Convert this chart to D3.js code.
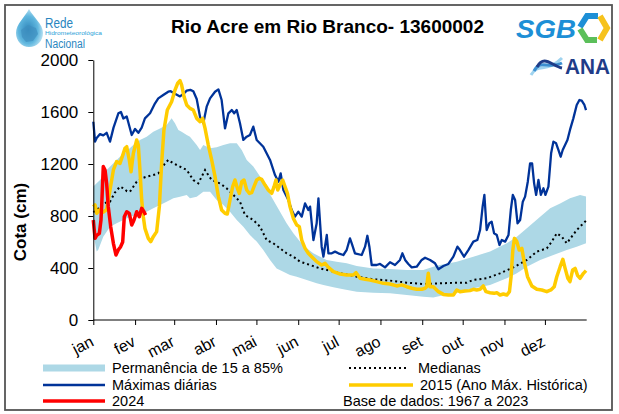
<!DOCTYPE html>
<html>
<head>
<meta charset="utf-8">
<script src="https://cdn.jsdelivr.net/npm/d3@7"></script>
<style>
body { margin: 0; background: #fff; }
svg { display: block; font-family: "Liberation Sans", Arial, sans-serif; }
</style>
</head>
<body>
<div id="chart"></div>
<script>
// meses e eixos
const months = ["jan", "fev", "mar", "abr", "mai", "jun", "jul", "ago", "set", "out", "nov", "dez"];
const monthStart = [0, 31, 60, 91, 121, 152, 182, 213, 244, 274, 305, 335];
const yTicks = [0, 400, 800, 1200, 1600, 2000];

// [dia do ano, cota cm]
const bandHigh = [[0,1026],[5,1077],[9.9,1154],[14.9,1205],[19.8,1256],[24.8,1300],[29.7,1346],[34.6,1385],
  [39.6,1410],[44.5,1449],[49.5,1474],[54.4,1500],[58.1,1551],[60.6,1513],[63.1,1462],[65.5,1449],[69.3,1423],
  [71.7,1410],[76.7,1346],[79.2,1308],[81.6,1346],[86.6,1321],[91.5,1328],[96.5,1346],[101.4,1359],[106.4,1359],
  [110.1,1308],[113.8,1231],[118.7,1180],[123.7,1103],[128.6,1013],[133.5,923],[138.5,833],[143.4,744],
  [148.4,667],[153.3,603],[158.3,551],[163.2,513],[168.2,487],[173.1,462],[180.5,449],[188,436],[195.4,415],
  [207.7,397],[220.1,392],[232.5,385],[244.8,385],[252.2,410],[257.2,423],[269.6,449],[281.9,487],[294.3,526],
  [306.7,590],[314.2,641],[321.6,705],[331.5,795],[338.9,859],[346.3,897],[353.6,936],[361.1,962],[365.5,950]];

const bandLow = [[0,667],[2.5,526],[3.7,540],[7.4,641],[12.4,718],[17.3,744],[22.3,769],[27.2,795],[32.2,808],
  [34.6,795],[39.6,833],[44.5,859],[49.5,885],[54.4,910],[59.4,936],[64.3,949],[69.3,962],[71.7,936],[76.7,949],
  [81.6,987],[86.6,987],[91.5,923],[96.5,885],[101.4,833],[106.4,769],[111.3,718],[116.2,654],[121.2,603],
  [126.1,538],[131.1,462],[136,397],[141,372],[145.9,346],[150.9,333],[158.3,308],[165.7,282],[170.7,269],
  [178.1,251],[185.5,236],[195.4,218],[207.7,210],[220.1,205],[232.5,192],[244.8,179],[252.2,174],[257.2,185],
  [269.6,210],[281.9,244],[294.3,269],[306.7,321],[314.2,359],[321.6,410],[331.5,462],[341.3,500],[351.2,538],
  [358.6,564],[365.5,590]];

const medianas = [[0,830],[3,850],[7.4,897],[12.4,910],[16,980],[19.8,1026],[22.3,1013],[25,990],[27.2,987],
  [32.2,1064],[36,1090],[39.6,1103],[44.5,1115],[48.2,1128],[53.2,1205],[55.6,1231],[59.4,1205],[64.3,1180],
  [69.3,1154],[74.2,1077],[77.9,1051],[82.9,1154],[85.3,1115],[87.8,1077],[94,1051],[98.9,1013],[103.9,962],
  [108.8,910],[112.5,808],[118.7,769],[123.7,718],[128.6,615],[133.5,590],[138.5,551],[143.4,513],[148.4,487],
  [153.3,449],[160.8,423],[168.2,397],[175.6,379],[183.1,359],[190.4,346],[195.4,333],[207.7,313],[220.1,303],
  [232.5,287],[244.8,277],[257.2,282],[269.6,287],[277,287],[281.9,308],[291.8,321],[301.7,359],[311.6,405],
  [321.6,462],[329,526],[336.4,551],[340.1,603],[343.8,667],[347.5,641],[351.2,590],[354.9,641],[358.6,692],
  [362.3,731],[365.5,764]];

const maximas = [[0,1525],[1.3,1372],[2.5,1400],[5,1430],[7.4,1420],[9.9,1440],[12.4,1372],[15,1480],[18.6,1590],
  [20.5,1600],[22.3,1550],[24.8,1565],[28.5,1423],[31,1470],[33.4,1440],[35.9,1480],[38.3,1551],[42.1,1590],
  [45.8,1667],[48.2,1705],[51.9,1731],[55.6,1756],[57.4,1760],[60.6,1740],[64.3,1720],[67,1740],[69.3,1764],
  [72,1770],[74.2,1760],[76.7,1700],[79.2,1562],[81.6,1513],[84.1,1641],[86.6,1705],[90.3,1756],[92.8,1774],
  [95.2,1692],[97.7,1474],[100.2,1590],[102.7,1615],[104.5,1590],[106.4,1615],[108.8,1513],[111.3,1385],
  [113.8,1410],[116.2,1423],[118.7,1487],[121.2,1385],[126.1,1333],[131.1,1231],[134.8,1115],[137.3,1064],
  [139,1128],[141,1000],[144.7,923],[147.2,846],[149.6,795],[152.1,833],[154.6,795],[157.1,897],[159.5,846],
  [160.8,872],[163.3,615],[165.7,744],[167,936],[169.4,564],[170.7,487],[173.2,654],[174.4,513],[176.9,513],
  [179.3,526],[181.8,513],[185.5,500],[188,540],[190.4,628],[191.7,590],[194.1,513],[199.1,500],[201.6,564],
  [203.3,648],[204.8,564],[206.5,423],[210.2,423],[212.7,431],[216.4,405],[220.1,444],[223.8,423],[227.5,462],
  [229.3,513],[231.3,462],[233.7,431],[236.2,405],[239.9,410],[243.6,462],[246.1,479],[249.8,462],[253.5,436],
  [256,390],[259.7,415],[263.4,431],[267.1,487],[270.1,564],[272,538],[275,487],[278.2,538],[281.9,603],
  [284.9,615],[286.9,692],[288.8,872],[290.1,962],[291.8,692],[293.8,744],[295.5,756],[297.3,667],[299.3,654],
  [301.3,577],[303,615],[305.5,603],[308,654],[309.7,846],[311.2,962],[312.9,923],[314.7,744],[316.6,769],
  [318.6,910],[320.3,949],[322.3,1064],[324,1205],[325.5,1205],[327,1051],[328.5,962],[330.2,1077],[332,962],
  [333.9,1013],[335.4,962],[337.6,1026],[339.6,1282],[341.3,1372],[343.3,1359],[345,1308],[346.7,1256],
  [348.2,1308],[351.7,1385],[353.6,1462],[356.1,1551],[358.6,1654],[360.6,1692],[362.3,1687],[364.3,1654],
  [365.5,1615]];

const ano2015 = [[0,872],[1.3,885],[2.5,821],[5,850],[7.4,830],[9.9,850],[12.4,1000],[14.9,1154],[17.3,1218],
  [19.8,1205],[22.3,1282],[23.5,1321],[24.8,1333],[26.7,1231],[28,1141],[29.7,1282],[32.2,1385],[33.4,1346],
  [34.6,1154],[35.9,923],[37.1,795],[38.3,705],[40.8,628],[42.6,603],[44.5,641],[47,680],[49,872],[50.7,1205],
  [52.4,1462],[54.9,1615],[58.1,1679],[60.6,1769],[62.6,1821],[64.3,1841],[65.5,1808],[67.3,1718],[69.3,1654],
  [71.7,1628],[74.2,1615],[76.7,1551],[79.2,1526],[81.1,1551],[82.9,1474],[85.3,1346],[87.8,1231],[90.3,1103],
  [92.8,949],[95.2,846],[97.7,821],[99.4,815],[101.4,923],[103.4,1026],[105.1,1077],[106.9,1013],[108.3,974],
  [110.1,1064],[111.8,1077],[113.8,1000],[115.8,974],[117.5,980],[119.2,1026],[121.2,1077],[123.2,1090],
  [124.9,1082],[127.4,1038],[129.8,1000],[132.3,974],[134.1,1026],[135.5,1077],[136.8,1000],[138.5,1038],
  [140.5,1077],[142.2,1026],[144,974],[145.9,872],[148.4,782],[150.9,731],[152.8,718],[154.6,615],[157.1,551],
  [159.5,513],[162,487],[165.7,449],[169.4,423],[171.9,436],[174.4,405],[178.1,372],[183.1,354],[188,346],
  [192.9,346],[194.9,364],[197.9,321],[201.6,313],[205.3,308],[210.2,295],[215.2,282],[220.1,277],[225.1,262],
  [228.8,270],[232.5,256],[236.2,244],[239.9,236],[243.6,236],[246.1,244],[247.3,256],[248.5,359],[249.8,256],
  [252.2,256],[256,218],[259.7,197],[263.4,192],[267.1,192],[269.6,231],[272,218],[275.7,223],[279.4,226],
  [281.9,236],[284.4,231],[286.9,236],[289.3,262],[291.3,218],[294.3,210],[297.3,205],[299.3,210],[301.7,192],
  [304.2,200],[306.7,192],[308.7,218],[309.9,333],[311.2,538],[312.4,628],[314.2,603],[315.9,538],[317.9,551],
  [319.6,449],[322.1,333],[325.3,262],[329,236],[332.7,231],[336.4,218],[339.4,231],[341.9,256],[343.8,333],
  [346.3,410],[348.3,467],[350,397],[352,321],[353.6,295],[355.6,385],[357.4,397],[359.3,341],[361.1,321],
  [363.6,359],[365.5,380]];

const ano2024 = [[0,769],[1.3,628],[2.5,650],[4.5,667],[5.7,769],[6.2,872],[7.4,1180],[8.7,1154],[9.9,1051],
  [11.1,872],[12.9,718],[14.9,590],[16.8,500],[18.6,540],[20.3,564],[21.8,600],[23,795],[24.8,833],[26.7,820],
  [28.5,731],[30.2,769],[32.2,833],[34.1,795],[35.9,859],[37.6,833],[38.8,808]];

const width = 619, height = 414

const svg = d3.select("#chart").append("svg")
    .attr("width", width)
    .attr("height", height)

// moldura
svg.append("rect")
    .attr("x", 5).attr("y", 5)
    .attr("width", 607).attr("height", 405)
    .attr("fill", "#fff")
    .attr("stroke", "#555")
    .attr("stroke-width", 1.8)

let x = d3.scaleLinear().domain([0, 366]).range([93.3, 586.7])
let y = d3.scaleLinear().domain([0, 2000]).range([320, 60])

let line = d3.line().x(d => x(d[0])).y(d => y(d[1]))

// faixa de permanencia
svg.append("path")
    .attr("d", line(bandHigh.concat(bandLow.slice().reverse())) + "Z")
    .attr("fill", "#add8e6")

svg.append("path")
    .attr("d", line(medianas))
    .attr("fill", "none")
    .attr("stroke", "#000")
    .attr("stroke-width", 2)
    .attr("stroke-dasharray", "2,3")

svg.append("path")
    .attr("d", line(maximas))
    .attr("fill", "none")
    .attr("stroke", "#003399")
    .attr("stroke-width", 2.3)
    .attr("stroke-linejoin", "round")

svg.append("path")
    .attr("d", line(ano2015))
    .attr("fill", "none")
    .attr("stroke", "#ffcc00")
    .attr("stroke-width", 3.5)
    .attr("stroke-linejoin", "round")

svg.append("path")
    .attr("d", line(ano2024))
    .attr("fill", "none")
    .attr("stroke", "#ff0000")
    .attr("stroke-width", 3.5)
    .attr("stroke-linejoin", "round")

// eixos
let yAxis = svg.append("g")
    .attr("transform", "translate(93.3,0)")
    .call(d3.axisLeft(y).tickValues(yTicks).tickSize(5).tickSizeOuter(0).tickPadding(10)
        .tickFormat(d3.format("d")))
yAxis.selectAll("text").style("font-size", "17px").attr("fill", "#000")
yAxis.selectAll("line,path").attr("stroke", "#000")

let xAxis = svg.append("g")
    .attr("transform", "translate(0,320)")
    .call(d3.axisBottom(x).tickValues(monthStart).tickSize(5).tickSizeOuter(0)
        .tickFormat((d, i) => months[i]))
xAxis.select(".domain").attr("d", "M93.3,0H586.7").attr("stroke", "#000")
xAxis.selectAll("line").attr("stroke", "#000")
xAxis.selectAll("text")
    .attr("x", 0).attr("y", 0).attr("dy", null)
    .attr("text-anchor", "end")
    .attr("transform", "translate(1,25) rotate(-28)")
    .style("font-size", "16px")
    .attr("fill", "#000")

svg.append("text")
    .attr("transform", "translate(25.5,222) rotate(-90)")
    .attr("text-anchor", "middle")
    .style("font-size", "17px")
    .style("font-weight", "bold")
    .text("Cota (cm)")

svg.append("text")
    .attr("x", 327.5).attr("y", 33)
    .attr("text-anchor", "middle")
    .style("font-size", "19px")
    .style("font-weight", "bold")
    .text("Rio Acre em Rio Branco- 13600002")

// legenda
let leg = svg.append("g").style("font-size", "14.5px")
leg.append("rect").attr("x", 43).attr("y", 364.5).attr("width", 62).attr("height", 7).attr("fill", "#add8e6")
leg.append("line").attr("x1", 43).attr("x2", 105).attr("y1", 385).attr("y2", 385)
    .attr("stroke", "#003399").attr("stroke-width", 2.5)
leg.append("line").attr("x1", 43).attr("x2", 105).attr("y1", 401).attr("y2", 401)
    .attr("stroke", "#ff0000").attr("stroke-width", 3.5)
leg.append("line").attr("x1", 349).attr("x2", 409).attr("y1", 368).attr("y2", 368)
    .attr("stroke", "#000").attr("stroke-width", 2).attr("stroke-dasharray", "2,3")
leg.append("line").attr("x1", 349).attr("x2", 413).attr("y1", 385).attr("y2", 385)
    .attr("stroke", "#ffcc00").attr("stroke-width", 3.5)
leg.append("text").attr("x", 112).attr("y", 373).text("Permanência de 15 a 85%")
leg.append("text").attr("x", 112).attr("y", 390).text("Máximas diárias")
leg.append("text").attr("x", 112).attr("y", 406).text("2024")
leg.append("text").attr("x", 418).attr("y", 373).text("Medianas")
leg.append("text").attr("x", 420).attr("y", 390).text("2015 (Ano Máx. Histórica)")
leg.append("text").attr("x", 343).attr("y", 406).text("Base de dados: 1967 a 2023")

// logo Rede Hidrometeorologica
let defs = svg.append("defs")
let grad = defs.append("radialGradient").attr("id", "gota").attr("cx", "45%").attr("cy", "55%").attr("r", "60%")
grad.append("stop").attr("offset", "0%").attr("stop-color", "#2f86bb")
grad.append("stop").attr("offset", "60%").attr("stop-color", "#5fb6de")
grad.append("stop").attr("offset", "100%").attr("stop-color", "#c8e9f6")
svg.append("path")
    .attr("d", "M29,9 C25,17 16,24 16,33 C16,41 22,47 29,47 C37,47 43,41 43,33 C43,24 33,17 29,9 Z")
    .attr("fill", "url(#gota)")
svg.append("path")
    .attr("d", "M21,30 L28,25 L36,28 L38,34 L33,41 L26,42 L22,37 Z")
    .attr("fill", "#3f8fbf").attr("opacity", 0.7)
svg.append("text").attr("x", 45).attr("y", 27.5).text("Rede")
    .style("font-size", "15px").attr("fill", "#2a86c0")
    .attr("textLength", 28).attr("lengthAdjust", "spacingAndGlyphs")
svg.append("text").attr("x", 45).attr("y", 35.3).text("Hidrometeorológica")
    .style("font-size", "5.5px").attr("fill", "#2a9fd8")
    .attr("textLength", 57).attr("lengthAdjust", "spacingAndGlyphs")
svg.append("text").attr("x", 45).attr("y", 47.5).text("Nacional")
    .style("font-size", "12px").attr("fill", "#2a86c0")
    .attr("textLength", 40).attr("lengthAdjust", "spacingAndGlyphs")

// logo SGB
svg.append("text").attr("x", 516).attr("y", 38).text("SGB")
    .style("font-size", "26px").style("font-weight", "bold").style("font-style", "italic")
    .attr("fill", "#1d8fd6")
    .attr("textLength", 60).attr("lengthAdjust", "spacingAndGlyphs")
svg.append("path").attr("d", "M580,27 L587,16 L598,16")
    .attr("fill", "none").attr("stroke", "#1d8fd6").attr("stroke-width", 6)
svg.append("path").attr("d", "M580,29 L587,40 L597,40")
    .attr("fill", "none").attr("stroke", "#5bbf5a").attr("stroke-width", 6)
svg.append("path").attr("d", "M600,16 L607,28 L600,40")
    .attr("fill", "none").attr("stroke", "#f6c21c").attr("stroke-width", 6)

// logo ANA
let waves = ["#9fd3ef", "#3d8fd0", "#1f3c88"]
waves.forEach((c, i) => {
    svg.append("path")
        .attr("d", `M${531 + i * 3},${75 - i * 4} C${538 + i * 3},${62 - i * 4} ${546 + i * 3},${74 - i * 4} ${562},${58 + i * 5}`)
        .attr("fill", "none").attr("stroke", c).attr("stroke-width", 3)
})
svg.append("text").attr("x", 565).attr("y", 74).text("ANA")
    .style("font-size", "22px").style("font-weight", "bold")
    .attr("fill", "#1f3c88")
    .attr("textLength", 45).attr("lengthAdjust", "spacingAndGlyphs")
</script>
</body>
</html>
